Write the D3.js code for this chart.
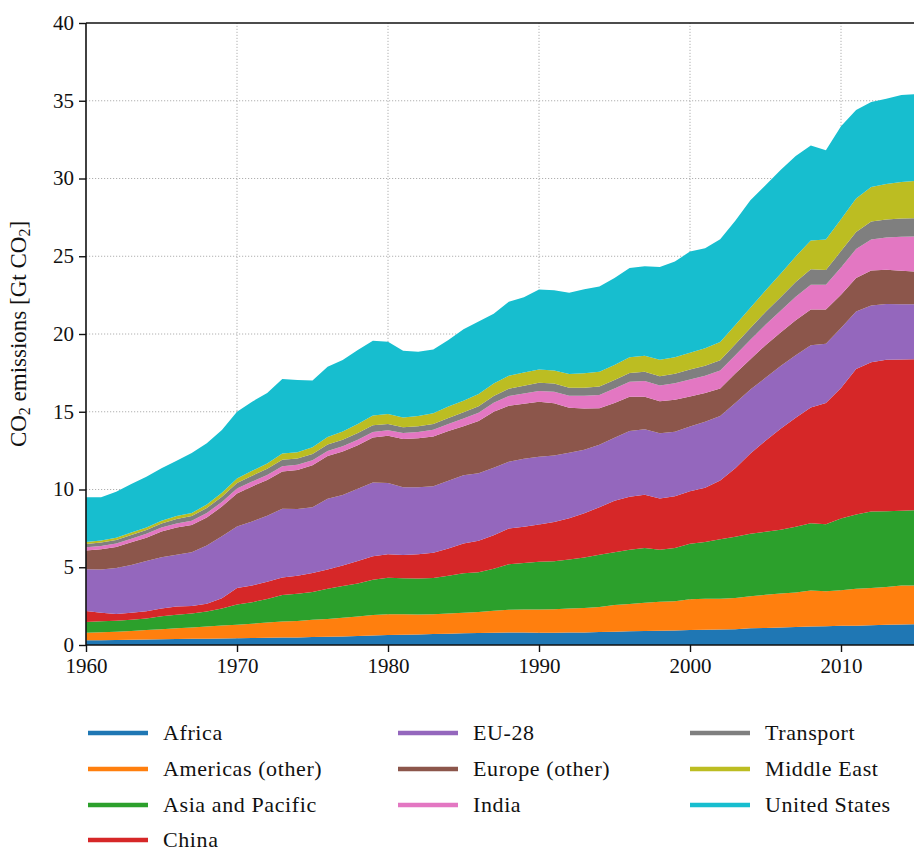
<!DOCTYPE html>
<html>
<head>
<meta charset="utf-8">
<script src="https://cdn.jsdelivr.net/npm/d3@7"></script>
<style>
  body { margin: 0; background: #fff; }
  svg text { font-family: "Liberation Serif", "DejaVu Serif", serif; fill: #111; }
</style>
</head>
<body>
<div id="chart"></div>
<script>
// years 1960 .. 2015
var years = d3.range(1960, 2016);

var africa = [.30,.31,.32,.33,.35,.37,.38,.40,.41,.42, .44,.45,.47,.49,.49,.51,.53,.55,.58,.61,
  .64,.66,.68,.70,.72,.75,.77,.79,.81,.80, .79,.79,.80,.81,.83,.86,.88,.90,.92,.94,
  .97,.98,.99,1.02,1.07,1.10,1.13,1.16,1.19,1.20, 1.23,1.24,1.27,1.30,1.32,1.33];
var americas = [.49,.51,.54,.57,.61,.65,.69,.73,.78,.83, .87,.92,.97,1.02,1.06,1.11,1.15,1.20,1.26,1.32,
  1.33,1.32,1.28,1.27,1.30,1.32,1.36,1.41,1.45,1.48, 1.49,1.51,1.54,1.57,1.62,1.71,1.76,1.82,1.86,1.88,
  1.97,1.99,1.98,2.00,2.06,2.13,2.18,2.22,2.32,2.25, 2.29,2.37,2.40,2.43,2.50,2.50];
var asiaPacific = [.69,.70,.70,.72,.75,.83,.88,.90,.96,1.10, 1.30,1.38,1.52,1.70,1.75,1.79,1.94,2.04,2.11,2.27,
  2.36,2.32,2.32,2.34,2.44,2.55,2.55,2.70,2.93,2.99, 3.07,3.09,3.16,3.25,3.36,3.40,3.49,3.52,3.34,3.42,
  3.57,3.65,3.83,3.94,4.03,4.05,4.10,4.23,4.32,4.31, 4.61,4.79,4.91,4.87,4.82,4.84];
var china = [.71,.55,.44,.45,.46,.50,.52,.48,.50,.65, 1.05,1.08,1.10,1.13,1.15,1.22,1.24,1.32,1.45,1.50,
  1.50,1.48,1.55,1.63,1.75,1.90,2.02,2.15,2.30,2.34, 2.40,2.52,2.65,2.85,3.05,3.30,3.40,3.42,3.30,3.32,
  3.38,3.50,3.78,4.40,5.15,5.85,6.50,7.00,7.45,7.80, 8.40,9.35,9.60,9.75,9.72,9.70];
var eu28 = [2.68,2.78,2.95,3.08,3.23,3.30,3.33,3.45,3.75,4.00, 3.96,4.12,4.25,4.42,4.30,4.23,4.54,4.53,4.65,4.75,
  4.59,4.37,4.32,4.27,4.35,4.39,4.35,4.35,4.30,4.36, 4.35,4.28,4.22,4.08,4.02,4.05,4.24,4.21,4.20,4.16,
  4.16,4.24,4.15,4.20,4.12,4.05,4.03,4.03,3.99,3.82, 3.85,3.70,3.65,3.58,3.55,3.55];
var europeOther = [1.20,1.30,1.35,1.45,1.50,1.65,1.75,1.75,1.80,1.90, 2.13,2.25,2.30,2.40,2.50,2.70,2.75,2.80,2.80,2.90,
  3.03,3.10,3.15,3.20,3.20,3.15,3.35,3.60,3.60,3.55, 3.54,3.35,2.88,2.65,2.34,2.25,2.20,2.10,2.05,2.05,
  1.93,1.84,1.77,1.90,1.95,2.10,2.15,2.25,2.30,2.20, 2.15,2.15,2.25,2.20,2.15,2.10];
var india = [.21,.22,.23,.24,.25,.26,.27,.28,.29,.30, .31,.31,.32,.33,.34,.32,.33,.34,.35,.35,
  .36,.38,.40,.43,.46,.50,.54,.58,.62,.66, .70,.74,.78,.82,.86,.92,.96,1.00,1.02,1.06,
  1.10,1.12,1.15,1.18,1.25,1.32,1.40,1.50,1.60,1.58, 1.75,1.86,2.00,2.08,2.20,2.25];
var transport = [.22,.22,.23,.24,.25,.26,.28,.30,.32,.34, .36,.38,.40,.42,.40,.40,.41,.42,.43,.43,
  .40,.38,.37,.37,.38,.40,.42,.44,.47,.50, .53,.53,.52,.52,.54,.55,.57,.60,.60,.62,
  .64,.64,.66,.70,.76,.82,.88,.95,1.00,.96, 1.05,1.10,1.15,1.16,1.17,1.18];
var middleEast = [.12,.13,.14,.15,.16,.17,.19,.20,.22,.25, .28,.31,.35,.40,.41,.43,.49,.53,.58,.63,
  .64,.62,.66,.70,.74,.75,.78,.80,.84,.85, .85,.84,.88,.92,.95,.97,1.00,1.03,1.05,1.06,
  1.07,1.12,1.18,1.24,1.30,1.38,1.50,1.65,1.85,1.95, 2.05,2.15,2.23,2.28,2.35,2.40];
var unitedStates = [2.88,2.78,2.96,3.12,3.26,3.37,3.56,3.85,3.94,4.04, 4.30,4.45,4.52,4.79,4.64,4.30,4.52,4.59,4.76,4.81,
  4.65,4.30,4.13,4.10,4.27,4.60,4.66,4.48,4.75,4.84, 5.14,5.17,5.23,5.41,5.49,5.59,5.74,5.75,5.97,6.16,
  6.51,6.43,6.60,6.71,6.91,6.76,6.67,6.45,6.10,5.74, 5.98,5.69,5.46,5.48,5.59,5.57];

var seriesNames = ["Africa", "Americas (other)", "Asia and Pacific", "China", "EU-28",
  "Europe (other)", "India", "Transport", "Middle East", "United States"];
var seriesValues = [africa, americas, asiaPacific, china, eu28, europeOther, india, transport, middleEast, unitedStates];
var colors = ["#1f77b4", "#ff7f0e", "#2ca02c", "#d62728", "#9467bd",
  "#8c564b", "#e377c2", "#7f7f7f", "#bcbd22", "#17becf"];

var yTicks = [0, 5, 10, 15, 20, 25, 30, 35, 40];
var xTicks = [1960, 1970, 1980, 1990, 2000, 2010];

var width = 914, height = 853;
var margin = {top: 23, left: 86, bottom: 208};
var plotRight = 916.5;

var rows = years.map(function (yr, i) {
  var row = {year: yr};
  seriesNames.forEach(function (name, k) { row[name] = seriesValues[k][i]; });
  return row;
});

var x = d3.scaleLinear().domain([1960, 2015]).range([margin.left, plotRight]);
var y = d3.scaleLinear().domain([0, 40]).range([height - margin.bottom, margin.top]);

var svg = d3.select("#chart").append("svg")
  .attr("width", width)
  .attr("height", height);

// grid (behind the areas)
var grid = svg.append("g")
  .attr("stroke", "#b0b0b0")
  .attr("stroke-width", 1)
  .attr("stroke-dasharray", "1.2,1.8");
grid.selectAll(".gx").data(xTicks.slice(1)).enter().append("line")
  .attr("x1", function (d) { return x(d); })
  .attr("x2", function (d) { return x(d); })
  .attr("y1", y(0)).attr("y2", y(40));
grid.selectAll(".gy").data(yTicks.slice(1, -1)).enter().append("line")
  .attr("y1", function (d) { return y(d); })
  .attr("y2", function (d) { return y(d); })
  .attr("x1", x(1960)).attr("x2", plotRight);

var stack = d3.stack().keys(seriesNames);
var layers = stack(rows);

var area = d3.area()
  .x(function (d) { return x(d.data.year); })
  .y0(function (d) { return y(d[0]); })
  .y1(function (d) { return y(d[1]); });

svg.append("g").selectAll("path")
  .data(layers)
  .enter().append("path")
  .attr("d", area)
  .attr("fill", function (d, i) { return colors[i]; });

// axes
var yAxis = svg.append("g")
  .attr("transform", "translate(" + margin.left + ",0)")
  .call(d3.axisLeft(y).tickValues(yTicks).tickSize(7).tickPadding(5));
var xAxis = svg.append("g")
  .attr("transform", "translate(0," + y(0) + ")")
  .call(d3.axisBottom(x).tickValues(xTicks).tickFormat(d3.format("d")).tickSize(7).tickPadding(6));

[yAxis, xAxis].forEach(function (g) {
  g.select(".domain").remove();
  g.selectAll(".tick line").attr("stroke", "#111").attr("stroke-width", 1.4);
  g.selectAll(".tick text")
    .style("font-family", "'Liberation Serif', serif")
    .style("font-size", "21px")
    .attr("fill", "#111");
});
yAxis.selectAll(".tick text").attr("dy", "0.30em");

// spines
var spine = svg.append("g").attr("stroke", "#111").attr("stroke-width", 1.6).attr("fill", "none");
spine.append("line").attr("x1", x(1960)).attr("x2", x(1960)).attr("y1", y(0)).attr("y2", y(40));
spine.append("line").attr("x1", x(1960)).attr("x2", plotRight).attr("y1", y(0)).attr("y2", y(0));
spine.append("line").attr("x1", x(1960)).attr("x2", plotRight).attr("y1", y(40)).attr("y2", y(40));

// y label
var ylab = svg.append("text")
  .attr("transform", "translate(26," + ((y(0) + y(40)) / 2) + ") rotate(-90)")
  .attr("text-anchor", "middle")
  .style("font-size", "23px");
ylab.append("tspan").text("CO");
ylab.append("tspan").text("2").attr("baseline-shift", "-25%").style("font-size", "16px");
ylab.append("tspan").text(" emissions [Gt CO");
ylab.append("tspan").text("2").attr("baseline-shift", "-25%").style("font-size", "16px");
ylab.append("tspan").text("]");

// legend: 3 columns, filled column by column
var colX = [88, 398, 690];
var rowY = [733, 769, 805, 840];
var perCol = [4, 3, 3];
var legend = svg.append("g");
var idx = 0;
perCol.forEach(function (n, c) {
  for (var r = 0; r < n; r++) {
    var item = legend.append("g").attr("transform", "translate(" + colX[c] + "," + rowY[r] + ")");
    item.append("line")
      .attr("x1", 0).attr("x2", 60).attr("y1", 0).attr("y2", 0)
      .attr("stroke", colors[idx]).attr("stroke-width", 4.5);
    item.append("text")
      .attr("x", 75).attr("y", 0).attr("dy", "0.33em")
      .style("font-size", "22px")
      .style("letter-spacing", "0.6px")
      .text(seriesNames[idx]);
    idx++;
  }
});
</script>
</body>
</html>
